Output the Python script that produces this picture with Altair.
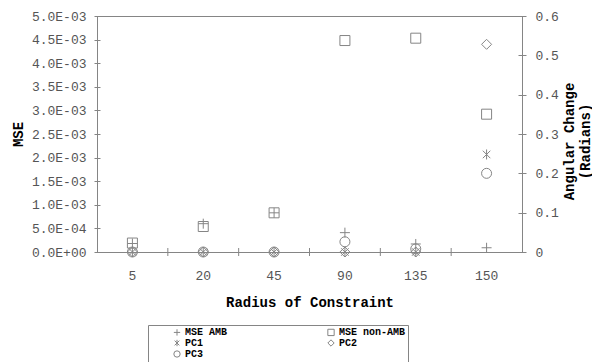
import altair as alt
import pandas as pd

# ---- data ----
categories = ["5", "20", "45", "90", "135", "150"]
series_names = ["MSE AMB", "MSE non-AMB", "PC1", "PC2", "PC3"]
mse_amb = [1.8e-4, 6.0e-4, 8.3e-4, 4.1e-4, 1.7e-4, 0.9e-4]
mse_non_amb = [1.9e-4, 5.4e-4, 8.3e-4, 4.48e-3, 4.53e-3, 2.92e-3]
pc1 = [0.0, 0.0, 0.0, 0.0, 0.0, 0.248]
pc2 = [0.0, 0.0, 0.0, 0.0, 0.0, 0.528]
pc3 = [0.0, 0.0, 0.0, 0.026, 0.008, 0.200]
mse_ticks = [0.0, 0.0005, 0.001, 0.0015, 0.002, 0.0025, 0.003, 0.0035, 0.004, 0.0045, 0.005]
angle_ticks = [0.0, 0.1, 0.2, 0.3, 0.4, 0.5, 0.6]

GRAY = "#858585"
FONT = "Liberation Mono"
W, H = 425, 236

mse_df = pd.DataFrame(
    [{"category": c, "series": "MSE AMB", "value": v} for c, v in zip(categories, mse_amb)]
    + [{"category": c, "series": "MSE non-AMB", "value": v} for c, v in zip(categories, mse_non_amb)]
)
pc_df = pd.DataFrame(
    [{"category": c, "series": "PC1", "value": v} for c, v in zip(categories, pc1)]
    + [{"category": c, "series": "PC2", "value": v} for c, v in zip(categories, pc2)]
    + [{"category": c, "series": "PC3", "value": v} for c, v in zip(categories, pc3)]
)
tick_df = pd.DataFrame({"category": categories[1:]})

PLUS = "M-1,0L1,0M0,-1L0,1"
ASTER = "M-0.75,-0.75L0.75,0.75M-0.75,0.75L0.75,-0.75M0,-1L0,1"
shape_range = [PLUS, "square", ASTER, "diamond", "circle"]

x_scale = alt.Scale(type="band", domain=categories, paddingInner=0, paddingOuter=0)
x_axis = alt.Axis(
    title="Radius of Constraint", ticks=False, tickSize=0, domain=False,
    labelPadding=17, titlePadding=13, labelAngle=0, labelFontSize=13,
    labelFont=FONT, titleFont=FONT,
    labelColor="#555555", titleFontSize=14, titleFontWeight="bold", titleColor="black",
)

legend = alt.Legend(
    title=None, orient="none", legendX=51, legendY=309, columns=2,
    direction="horizontal",
    strokeColor=GRAY, padding=2, symbolOffset=22, labelOffset=3,
    columnPadding=76, rowPadding=-2, symbolSize=40, symbolStrokeWidth=1,
    symbolStrokeColor=GRAY, labelFont=FONT, labelFontWeight="bold",
    labelFontSize=10, labelColor="black",
)
shape_enc = alt.Shape("series:N", scale=alt.Scale(domain=series_names, range=shape_range), legend=legend)

point_kw = dict(filled=False, color=GRAY, strokeWidth=1, size=100, opacity=1)

mse_points = alt.Chart(mse_df).mark_point(**point_kw).encode(
    x=alt.X("category:N", sort=categories, scale=x_scale, axis=x_axis),
    y=alt.Y(
        "value:Q",
        scale=alt.Scale(domain=[0, 0.005], nice=False, zero=True),
        axis=alt.Axis(
            orient="left", values=mse_ticks,
            labelExpr="datum.value == 0 ? '0.0E+00' : (datum.value >= 0.00099999 ? format(datum.value*1000, '.1f') + 'E-03' : format(datum.value*10000, '.1f') + 'E-04')",
            offset=-3, tickSize=6, domain=False, labelPadding=8, tickColor=GRAY,
            labelFont=FONT, titleFont=FONT,
            labelColor="#555555", labelFontSize=13, title="MSE", titleFontSize=14,
            titleFontWeight="bold", titleColor="black", titlePadding=6,
        ),
    ),
    shape=shape_enc,
)

pc_points = alt.Chart(pc_df).mark_point(**point_kw).encode(
    x=alt.X("category:N", sort=categories, scale=x_scale, axis=x_axis),
    y=alt.Y(
        "value:Q",
        scale=alt.Scale(domain=[0, 0.6], nice=False, zero=True),
        axis=alt.Axis(
            orient="right", values=angle_ticks,
            labelExpr="datum.value == 0 ? '0' : format(datum.value, '.1f')",
            offset=-4, tickSize=8, domain=False, labelPadding=9, tickColor=GRAY,
            labelFont=FONT, titleFont=FONT,
            labelColor="#555555", labelFontSize=13,
            title=["Angular Change", "(Radians)"], titleFontSize=14,
            titleFontWeight="bold", titleColor="black", titleAngle=270,
            titleX=44, titleY=125, titleAlign="center", titleBaseline="top",
            titleLineHeight=16,
        ),
    ),
    shape=shape_enc,
)

x_ticks = alt.Chart(tick_df).mark_rule(color=GRAY, strokeWidth=1).encode(
    x=alt.X("category:N", sort=categories, scale=x_scale, bandPosition=0, axis=x_axis),
    y=alt.value(H - 4),
    y2=alt.value(H + 4),
)

chart = (
    alt.layer(mse_points, pc_points, x_ticks)
    .resolve_scale(y="independent")
    .properties(
        width=W, height=H, background="white",
        padding={"left": 97, "top": 16, "right": 70, "bottom": 110},
        autosize=alt.AutoSizeParams(type="none"),
    )
    .configure_view(stroke=GRAY, strokeWidth=1)
    .configure_axis(labelFont=FONT, titleFont=FONT, grid=False)
)

chart.save("out.html", embed_options={"renderer": "svg", "actions": False})
